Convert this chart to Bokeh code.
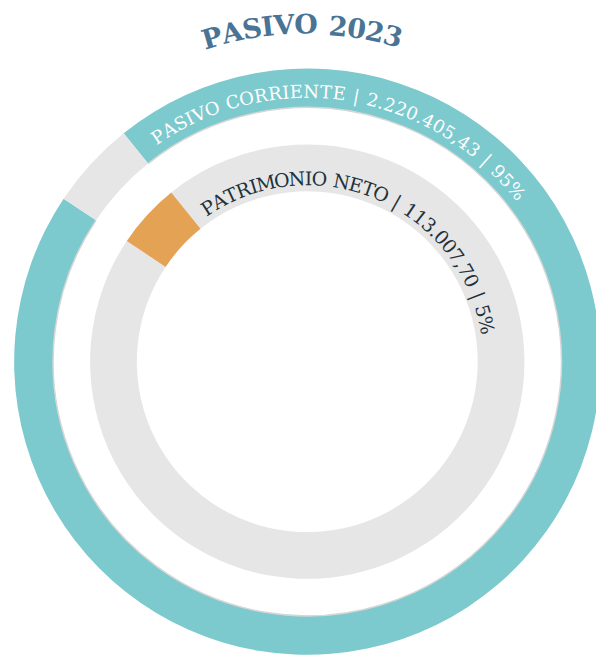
import math
from bokeh.plotting import figure
from bokeh.models import Range1d, ColumnDataSource
from bokeh.core.properties import value
from bokeh.embed import file_html
from bokeh.resources import INLINE

# ---- data ----
title_text = "PASIVO 2023"
categories = ["PASIVO CORRIENTE", "PATRIMONIO NETO"]
amounts = [2220405.43, 113007.70]

# ---- styles ----
TEAL = "#7CC9CE"
GRAY = "#E6E6E6"
ORANGE = "#E3A254"
TITLE_C = "#4A7495"
DARK = "#1E323B"
FONT = "DejaVu Serif"

CX, CY = 315, -370

def fmt_es(v):
    s = f"{v:,.2f}"
    return s.replace(",", "X").replace(".", ",").replace("X", ".")

total = sum(amounts)
pcts = [round(a / total * 100) for a in amounts]
frac_small = amounts[1] / total
mid_small = math.radians(137.5)
half = frac_small * math.pi
small_start = mid_small - half
small_end = mid_small + half

W = {'A': .72, 'B': .74, 'C': .73, 'D': .80, 'E': .73, 'F': .69, 'G': .78, 'H': .87,
     'I': .40, 'J': .42, 'K': .76, 'L': .69, 'M': 1.0, 'N': .87, 'O': .79, 'P': .70,
     'Q': .79, 'R': .77, 'S': .68, 'T': .70, 'U': .81, 'V': .72, 'W': 1.02, 'X': .72,
     'Y': .68, 'Z': .68, ' ': .40, '.': .32, ',': .32, '|': .34, '%': .95}

def cw(c):
    return W.get(c, .64)

def arc_text(text, r, a_first, a_last):
    ws = [cw(c) for c in text]
    centers = []
    acc = 0
    for w in ws:
        centers.append(acc + w / 2)
        acc += w
    c0, cn = centers[0], centers[-1]
    xs, ys, angs, chars = [], [], [], []
    for ch, c in zip(text, centers):
        t = (c - c0) / (cn - c0)
        a = math.radians(a_first + (a_last - a_first) * t)
        if ch == ' ':
            continue
        xs.append(CX + r * math.cos(a))
        ys.append(CY + r * math.sin(a))
        angs.append(a - math.pi / 2)
        chars.append(ch)
    return ColumnDataSource(dict(x=xs, y=ys, angle=angs, text=chars))

p = figure(width=596, height=656, output_backend="svg", toolbar_location=None,
           x_range=Range1d(0, 612), y_range=Range1d(-672, 0), min_border=0)
p.axis.visible = False
p.grid.visible = False
p.outline_line_color = None
p.background_fill_color = "white"
p.border_fill_color = "white"

# outer ring
p.annular_wedge(x=CX, y=CY, inner_radius=261, outer_radius=301,
                start_angle=small_end, end_angle=small_start, direction="anticlock",
                fill_color=TEAL, line_color=None)
p.annular_wedge(x=CX, y=CY, inner_radius=261, outer_radius=301,
                start_angle=small_start, end_angle=small_end, direction="anticlock",
                fill_color=GRAY, line_color=None)
p.arc(x=CX, y=CY, radius=261, start_angle=small_end, end_angle=small_start,
      direction="anticlock", line_color="#D6D6D6", line_width=1.5)

# inner ring
p.annular_wedge(x=CX, y=CY, inner_radius=175, outer_radius=223,
                start_angle=small_end, end_angle=small_start, direction="anticlock",
                fill_color=GRAY, line_color=None)
p.annular_wedge(x=CX, y=CY, inner_radius=175, outer_radius=223,
                start_angle=small_start, end_angle=small_end, direction="anticlock",
                fill_color=ORANGE, line_color=None)

outer_label = f"{categories[0]} | {fmt_es(amounts[0])} | {pcts[0]}%"
inner_label = f"{categories[1]} | {fmt_es(amounts[1])} | {pcts[1]}%"

src_o = arc_text(outer_label, 277, 123.6, 39.1)
p.text(x="x", y="y", text="text", angle="angle", source=src_o,
       text_align="center", text_baseline="middle", text_color="white",
       text_font=value(FONT), text_font_size="18px")

src_i = arc_text(inner_label, 188, 122.8, 11.5)
p.text(x="x", y="y", text="text", angle="angle", source=src_i,
       text_align="center", text_baseline="middle", text_color=DARK,
       text_font=value(FONT), text_font_size="19px")

src_t = arc_text(title_text, 346, 106.4, 75.2)
p.text(x="x", y="y", text="text", angle="angle", source=src_t,
       text_align="center", text_baseline="middle", text_color=TITLE_C,
       text_font=value(FONT), text_font_size="27px", text_font_style="bold")

open("out.html", "w").write(file_html(p, INLINE))
